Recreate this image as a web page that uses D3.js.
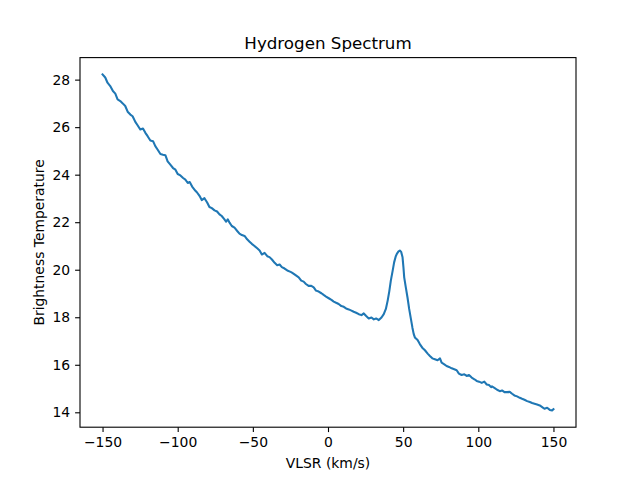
<!DOCTYPE html>
<html>
<head>
<meta charset="utf-8">
<script src="https://cdn.jsdelivr.net/npm/d3@7"></script>
<style>
	body{margin:0;background:#fff;}
	svg{font-family:'DejaVu Sans',sans-serif;}
</style>
</head>
<body>
<script>
// km/s
const velocity=[-150,-148.2,-146.7,-144.9,-143.1,-141.5,-140,-138.2,-136.4,-134.9,-133.3,-131.5,-130,-128.2,-126.7,-124.9,-123.1,-121.5,-120,-118.2,-116.4,-114.9,-113.3,-111.5,-109.8,-108.2,-106.7,-104.9,-103.1,-101.5,-100,-98.2,-96.4,-94.9,-93.3,-92,-90.4,-88.2,-87.1,-85.5,-84,-82.2,-80.4,-78.9,-77.3,-75.5,-73.8,-72.2,-70.7,-68.9,-67.8,-66.7,-65.5,-64,-62.2,-60.4,-58.9,-57.3,-55.5,-53.8,-52.2,-50.7,-48.9,-47.1,-45.5,-44,-42.2,-40.4,-38.9,-37.3,-35.5,-33.8,-32.2,-30.7,-28.9,-27.1,-24.9,-24,-21.8,-19.5,-17.8,-16.2,-14.7,-12.9,-11.1,-9.5,-8,-6.2,-4.4,-2.9,-1.3,0.5,2.3,3.8,5.4,7.1,8.9,10.5,12,13.8,15.6,17.1,18.7,20.5,22.3,23.8,25.4,27.1,28.9,30.5,32,33.8,35.6,37.1,38.5,39.7,40.8,41.8,43,44,45,45.8,46.8,47.8,48.7,49.6,50.2,50.7,51.8,52.9,54,55.1,56.2,57,57.8,59.6,61.1,62.7,64.5,66.3,67.8,69.4,71.1,72.9,74.5,75.6,77.4,78.9,80.5,82.3,84,85.6,87.1,88.9,90.7,92.3,93.8,95.6,97.4,98.9,100.5,102.3,104,105.6,107.1,108.5,109.1,110.7,112.5,114.3,115.8,117.4,119.1,120.9,122.5,124,125.8,127.6,129.1,130.7,132.5,134.3,135.8,137.4,139.1,140.9,142.5,144,145.8,147.6,149.1,150]
const temperature=[28.22,28.09,27.87,27.73,27.52,27.41,27.17,27.1,26.99,26.89,26.65,26.53,26.46,26.22,26.08,25.9,25.94,25.76,25.62,25.44,25.41,25.2,25.05,24.87,24.84,24.82,24.56,24.42,24.28,24.21,24.03,23.97,23.86,23.79,23.65,23.69,23.5,23.32,23.25,23.11,22.93,23.01,22.83,22.64,22.59,22.5,22.45,22.33,22.26,22.12,22.02,22.12,21.98,21.84,21.77,21.63,21.52,21.46,21.42,21.28,21.18,21.09,21,20.9,20.81,20.64,20.71,20.57,20.53,20.43,20.29,20.19,20.22,20.11,20.05,19.97,19.91,19.88,19.78,19.68,19.54,19.5,19.4,19.32,19.32,19.26,19.12,19.08,19.01,18.94,18.87,18.8,18.73,18.66,18.61,18.56,18.47,18.44,18.37,18.33,18.28,18.23,18.19,18.13,18.09,18.16,18.05,17.95,17.99,17.91,17.95,17.88,17.99,18.13,18.35,18.7,19.1,19.54,19.95,20.31,20.55,20.67,20.76,20.81,20.75,20.52,20.1,19.68,19.25,18.83,18.35,17.95,17.55,17.3,17.15,17.04,16.87,16.72,16.61,16.47,16.37,16.27,16.23,16.19,16.27,16.09,16.02,15.95,15.91,15.85,15.81,15.77,15.63,15.57,15.6,15.53,15.57,15.46,15.39,15.32,15.29,15.24,15.29,15.17,15.15,15.06,15.09,15.03,14.95,14.89,14.92,14.85,14.85,14.86,14.78,14.71,14.67,14.61,14.57,14.53,14.47,14.43,14.39,14.36,14.33,14.29,14.22,14.15,14.19,14.1,14.08,14.13]
const xTicks=[-150,-100,-50,0,50,100,150]
const yTicks=[14,16,18,20,22,24,26,28]

const data=velocity.map((v,i)=>({v:v,t:temperature[i]}))

const margin=({top:57.6,right:64,bottom:52.8,left:80})
const width=640-margin.left-margin.right,
	height=480-margin.top-margin.bottom

let svg=d3.select('body').append('svg')
	.attr('width',640)
	.attr('height',480)
	.append('g')
	.attr('transform','translate('+margin.left+','+margin.top+')')

// matplotlib adds 5% padding round the data
let xScale=d3.scaleLinear()
	.domain([-165,165])
	.range([0,width])

let yMin=d3.min(temperature),yMax=d3.max(temperature),pad=(yMax-yMin)*0.05
let yScale=d3.scaleLinear()
	.domain([yMin-pad,yMax+pad])
	.range([height,0])

let xAxis=d3.axisBottom(xScale)
	.tickValues(xTicks)
	.tickSize(4.9)
	.tickPadding(4.9)
	.tickFormat(d=>d<0?'\u2212'+Math.abs(d):d)

let yAxis=d3.axisLeft(yScale)
	.tickValues(yTicks)
	.tickSize(4.9)
	.tickPadding(4.9)

const line=d3.line()
	.x(d=>xScale(d.v))
	.y(d=>yScale(d.t))

svg.append('path')
	.datum(data)
	.attr('fill','none')
	.attr('stroke','#1f77b4')
	.attr('stroke-width',2.08)
	.attr('stroke-linejoin','round')
	.attr('stroke-linecap','square')
	.attr('d',line)

svg.append('g')
	.attr('transform',`translate(0,${height})`)
	.call(xAxis)
	.call(g=>g.select('.domain').remove())
	.call(g=>g.selectAll('.tick line').attr('stroke-width',1.1))
	.call(g=>g.selectAll('.tick text').attr('font-size',13.9).attr('font-family','DejaVu Sans').attr('fill','#000'))

svg.append('g')
	.call(yAxis)
	.call(g=>g.select('.domain').remove())
	.call(g=>g.selectAll('.tick line').attr('stroke-width',1.1))
	.call(g=>g.selectAll('.tick text').attr('font-size',13.9).attr('font-family','DejaVu Sans').attr('fill','#000'))

// frame
svg.append('rect')
	.attr('width',width)
	.attr('height',height)
	.attr('fill','none')
	.attr('stroke','black')
	.attr('stroke-width',1.1)

svg.append('text')
	.attr('x',width/2)
	.attr('y',-8.3)
	.attr('text-anchor','middle')
	.attr('font-size',16.7)
	.text('Hydrogen Spectrum')

svg.append('text')
	.attr('x',width/2)
	.attr('y',height+40.5)
	.attr('text-anchor','middle')
	.attr('font-size',13.9)
	.text('VLSR (km/s)')

svg.append('text')
	.attr('transform',`translate(-36.5,${height/2}) rotate(-90)`)
	.attr('text-anchor','middle')
	.attr('font-size',13.9)
	.text('Brightness Temperature')
</script>
</body>
</html>
